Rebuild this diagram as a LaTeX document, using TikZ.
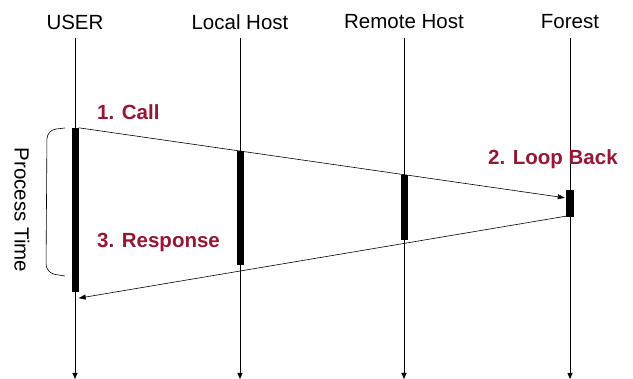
\documentclass[tikz,border=0pt]{standalone}
\usepackage{fontspec}
\setmainfont{Liberation Sans}
\usetikzlibrary{arrows.meta}
\definecolor{lbl}{RGB}{150,22,52}
\begin{document}
\begin{tikzpicture}[x=1pt,y=-1pt,
  head/.style={font=\fontsize{20.5}{24}\selectfont, anchor=center},
  life/.style={line width=0.8pt, -{Triangle[length=6pt,width=5pt]}},
  actbar/.style={fill=black, draw=none, minimum width=7pt, inner sep=0pt},
  msg/.style={line width=0.6pt, -{Triangle[length=7pt,width=5pt]}},
  lab/.style={font=\fontsize{20.5}{24}\selectfont\bfseries, text=lbl, anchor=west, inner sep=0pt}]
\useasboundingbox (0,0) rectangle (633,379);
% headers
\node[head] (hu) at (75,22) {USER};
\node[head] (hl) at (240,22) {Local Host};
\node[head] (hr) at (404,22) {Remote Host};
\node[head] (hf) at (570,22) {Forest};
% lifeline ends
\coordinate (eu) at (75,379);
\coordinate (el) at (240,379);
\coordinate (er) at (404,379);
\coordinate (ef) at (570,379);
\coordinate (su) at (75,38);
\coordinate (sl) at (240,38);
\coordinate (sr) at (404,38);
\coordinate (sf) at (570,38);
\draw[life] (su) -- (eu);
\draw[life] (sl) -- (el);
\draw[life] (sr) -- (er);
\draw[life] (sf) -- (ef);
% activation bars
\node[actbar, minimum height=164pt] (bu) at (75,210) {};
\node[actbar, minimum height=114pt] (bl) at (240,208) {};
\node[actbar, minimum height=65pt] (br) at (404,207.5) {};
\node[actbar, minimum width=8pt, minimum height=27pt] (bf) at (570,203.5) {};
% messages
\draw[msg] (bu.north east) -- ([xshift=-1pt,yshift=-8pt]bf.north west);
\draw[msg] ([yshift=1pt]bf.south west) -- ([yshift=-6pt]bu.south east);
% labels
\node[lab] (l1) at (97,112) {1. Call};
\node[lab] (l2) at (488,159) {2. Loop Back};
\node[lab] (l3) at (97,242) {3. Response};
% brace
\draw[line width=0.6pt, rounded corners=9pt] (65,128) -- (47,130) -- (46,273) -- (65,276);
\node[head, rotate=-90] (pt) at (22,210) {Process Time};
\end{tikzpicture}
\end{document}
